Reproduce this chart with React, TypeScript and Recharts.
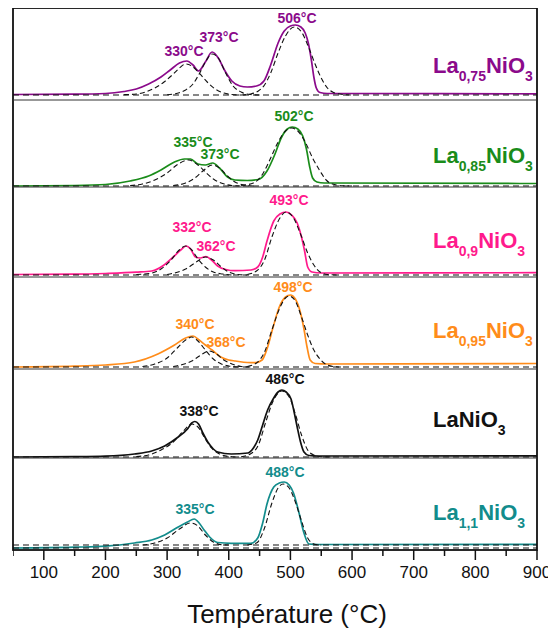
import { Line, LineChart, XAxis, YAxis } from "recharts";

type Pt = [number, number];

// temperature (°C), signal height (a.u.)
const la075Profile: Pt[] = [[50, 0.5], [150, 0.8], [200, 1.5], [230, 3.5], [250, 6], [270, 11], [290, 18], [305, 25], [320, 32], [332, 34], [342, 30], [351, 24], [362, 33], [373, 43], [383, 37], [393, 25], [405, 14], [418, 9], [430, 8], [445, 9], [457, 14], [468, 30], [480, 52], [490, 64], [500, 69], [508, 70], [517, 68], [524, 62], [529, 52], [534, 35], [538, 18], [542, 7], [548, 2.5], [560, 1.5], [900, 1.2]];
const la075FitLow: Pt[] = [[230, 0.3], [250, 1], [265, 3], [280, 7], [295, 13], [310, 21], [320, 27], [330, 31], [340, 29], [352, 22], [365, 13], [378, 6], [392, 2], [405, 0.5], [420, 0]];
const la075FitMid: Pt[] = [[300, 0.3], [315, 1.5], [330, 5], [342, 11], [352, 21], [363, 34], [373, 41], [383, 37], [395, 22], [407, 9], [420, 3], [435, 0.5], [450, 0]];
const la075FitHigh: Pt[] = [[420, 0], [435, 1], [448, 4], [458, 10], [468, 22], [480, 42], [492, 59], [506, 68], [518, 63], [530, 47], [540, 31], [550, 17], [560, 7], [570, 2.5], [585, 0.5], [600, 0]];

const la085Profile: Pt[] = [[50, 0], [150, 0.5], [200, 1.5], [240, 5], [270, 10], [290, 16], [312, 24], [328, 27], [338, 27], [350, 22], [362, 21], [374, 23], [385, 18], [398, 9], [410, 6], [430, 5.5], [448, 6.5], [462, 15], [475, 32], [485, 48], [495, 57], [503, 59], [512, 57], [520, 50], [526, 37], [531, 20], [536, 8], [543, 4], [555, 3], [900, 2.5]];
const la085FitLow: Pt[] = [[240, 0.5], [260, 2], [280, 6], [300, 13], [318, 22], [335, 26], [350, 21], [362, 14], [375, 7], [390, 2.5], [405, 0.5], [420, 0]];
const la085FitMid: Pt[] = [[310, 0.5], [330, 3], [345, 8], [358, 15], [373, 21], [385, 18], [398, 10], [410, 4], [425, 1], [440, 0]];
const la085FitHigh: Pt[] = [[420, 0.5], [440, 3], [455, 12], [468, 28], [480, 44], [492, 55], [502, 58], [512, 55], [524, 44], [536, 28], [548, 15], [558, 6], [568, 2], [585, 0.3], [600, 0]];

const la09Profile: Pt[] = [[50, 0.5], [150, 0.8], [200, 1.5], [250, 2.8], [275, 4], [295, 10], [310, 18], [322, 25], [331, 29], [338, 26], [346, 18], [354, 17], [363, 18.5], [372, 15], [382, 9], [395, 5.5], [410, 4.3], [436, 5], [447, 8], [455, 18], [462, 34], [473, 54], [483, 61], [493, 63], [502, 60], [511, 52], [518, 38], [523, 24], [528, 8], [535, 3], [550, 2], [900, 2.3]];
const la09FitLow: Pt[] = [[250, 0.5], [274, 1.7], [290, 6], [305, 14], [318, 24], [330, 29], [340, 25], [350, 16], [362, 8], [375, 3], [390, 1], [405, 0]];
const la09FitMid: Pt[] = [[300, 0.5], [315, 2.5], [330, 6], [345, 12], [362, 18], [375, 15], [388, 8], [400, 3], [415, 0.5], [430, 0]];
const la09FitHigh: Pt[] = [[430, 0.5], [445, 4], [458, 15], [470, 38], [482, 56], [493, 63], [505, 57], [517, 40], [528, 22], [538, 10], [548, 3], [560, 0.5], [575, 0]];

const la095Profile: Pt[] = [[50, 0], [150, 0.8], [200, 2], [247, 5], [285, 13], [312, 22], [330, 29], [342, 31], [352, 27], [362, 22], [373, 17], [387, 10], [400, 7], [411, 6], [430, 4.5], [443, 4.3], [454, 7], [462, 18], [472, 40], [482, 60], [492, 70], [500, 72], [508, 68], [516, 55], [522, 38], [527, 20], [532, 7], [540, 3.5], [560, 3], [900, 3.5]];
const la095FitLow: Pt[] = [[260, 0.5], [280, 3], [300, 9], [318, 20], [330, 27], [340, 30], [350, 26], [362, 17], [375, 8], [388, 3], [400, 1], [415, 0]];
const la095FitMid: Pt[] = [[310, 0.5], [325, 2.5], [340, 6], [355, 12], [368, 16], [380, 13], [392, 7], [405, 3], [420, 0.5], [435, 0]];
const la095FitHigh: Pt[] = [[430, 0.5], [445, 4], [458, 15], [470, 37], [482, 58], [492, 69], [498, 71], [508, 66], [518, 50], [528, 32], [538, 17], [548, 8], [558, 2.5], [570, 0.5], [585, 0]];

const la10Profile: Pt[] = [[50, 0], [150, 0.3], [200, 0.8], [247, 3], [275, 6], [296, 11], [318, 20], [333, 28], [340, 34], [345, 35.5], [351, 33], [358, 24], [366, 15], [375, 8], [382, 5], [404, 3], [431, 4], [440, 9], [447, 17], [455, 32], [463, 47], [472, 58], [480, 65], [486, 67], [493, 65], [501, 58], [506, 45], [511, 30], [516, 16], [522, 5], [530, 1.5], [545, 1], [900, 1.2]];
const la10FitLow: Pt[] = [[250, 0.5], [270, 2], [290, 7], [310, 15], [325, 25], [340, 33], [350, 30], [360, 20], [372, 9], [385, 3], [400, 0.5], [415, 0]];
const la10FitHigh: Pt[] = [[420, 0.3], [435, 3], [448, 12], [460, 35], [472, 56], [486, 66], [498, 60], [508, 43], [518, 22], [528, 7], [538, 2], [550, 0.3], [565, 0]];

const la11Profile: Pt[] = [[50, 0], [150, 0.8], [200, 1.8], [247, 5], [275, 8], [296, 13], [318, 21], [333, 26], [344, 29], [352, 25], [360, 18], [369, 11], [382, 5.5], [404, 4.7], [436, 4.7], [447, 10], [455, 25], [462, 44], [473, 61], [482, 65], [490, 66], [498, 63], [505, 55], [514, 35], [522, 15], [530, 4], [545, 3.5], [900, 3.7]];
const la11FitLow: Pt[] = [[260, 3], [280, 5], [300, 10], [320, 19], [338, 25], [350, 22], [362, 13], [375, 6], [390, 3.2], [400, 3]];
const la11FitHigh: Pt[] = [[430, 3], [445, 5], [458, 20], [470, 45], [480, 60], [488, 64], [498, 60], [508, 46], [518, 27], [528, 10], [538, 4], [550, 3]];

const zeroLine: Pt[] = [[50, 0], [900, 0]];
const fitBaseLine: Pt[] = [[50, 3], [900, 3]];

const sampleNames = [
	["La", "0,75", "NiO", "3"],
	["La", "0,85", "NiO", "3"],
	["La", "0,9", "NiO", "3"],
	["La", "0,95", "NiO", "3"],
	["LaNiO", "3"],
	["La", "1,1", "NiO", "3"],
];

const peakLabels = [
	["330°C", "373°C", "506°C"],
	["335°C", "373°C", "502°C"],
	["332°C", "362°C", "493°C"],
	["340°C", "368°C", "498°C"],
	["338°C", "486°C"],
	["335°C", "488°C"],
];

const tempTicks = [50, 100, 150, 200, 250, 300, 350, 400, 450, 500, 550, 600, 650, 700, 750, 800, 850, 900];

// layout, page pixels
const PLOT_X = 13;
const PLOT_W = 524;
const RIGHT_PAD = 19;
const FONT = "'Liberation Sans', Arial, sans-serif";

const panels = [
	{ color: "#8B0A8B", top: 8, height: 92, floor: 5, profile: la075Profile, fits: [la075FitLow, la075FitMid, la075FitHigh], bases: [zeroLine], nameY: 73, labelPos: [[184, 56], [219, 42], [297, 23]] },
	{ color: "#1A8C1A", top: 100, height: 87, floor: 1, profile: la085Profile, fits: [la085FitLow, la085FitMid, la085FitHigh], bases: [zeroLine], nameY: 163, labelPos: [[193, 147], [220, 159], [294, 121]] },
	{ color: "#FF1A8C", top: 187, height: 90, floor: 2, profile: la09Profile, fits: [la09FitLow, la09FitMid, la09FitHigh], bases: [zeroLine], nameY: 248, labelPos: [[192, 232], [216, 251], [289, 205]] },
	{ color: "#FF8C1A", top: 277, height: 92, floor: 2, profile: la095Profile, fits: [la095FitLow, la095FitMid, la095FitHigh], bases: [zeroLine], nameY: 338, labelPos: [[195, 329], [226, 347], [293, 292]] },
	{ color: "#111111", top: 369, height: 89, floor: 1, profile: la10Profile, fits: [la10FitLow, la10FitHigh], bases: [zeroLine], nameY: 427, labelPos: [[199, 416], [285, 384]] },
	{ color: "#128C8C", top: 458, height: 92, floor: 2, profile: la11Profile, fits: [la11FitLow, la11FitHigh], bases: [zeroLine, fitBaseLine], nameY: 520, labelPos: [[195, 514], [285, 477]] },
];

const AXIS_H = 50;

function buildRows(series: Record<string, Pt[]>) {
	const rows = new Map<number, Record<string, number>>();
	for (const [key, pts] of Object.entries(series)) {
		for (const [t, v] of pts) {
			const row = rows.get(t) ?? { t };
			row[key] = v;
			rows.set(t, row);
		}
	}
	return [...rows.values()].sort((a, b) => a.t - b.t);
}

const TempTick = (props: any) => {
	const { x, y, payload } = props;
	const major = payload.value % 100 === 0;
	return (
		<g>
			<line x1={x} x2={x} y1={y} y2={y + (major ? 10 : 6)} stroke="#111" strokeWidth={1.5} />
			{major && (
				<text x={x} y={y + 28} textAnchor="middle" fontSize={17} fontFamily={FONT} fill="#111">
					{payload.value}
				</text>
			)}
		</g>
	);
};

const Panel = ({ p, last }: { p: (typeof panels)[number]; last: boolean }) => {
	const series: Record<string, Pt[]> = { profile: p.profile };
	p.fits.forEach((f, i) => (series[`fit${i}`] = f));
	p.bases.forEach((b, i) => (series[`base${i}`] = b));
	const data = buildRows(series);
	const h = p.height + (last ? AXIS_H : 0);
	return (
		<div style={{ position: "absolute", left: PLOT_X - 8, top: p.top - 8 }}>
			<LineChart width={PLOT_W + RIGHT_PAD} height={h} data={data} margin={{ top: 0, right: RIGHT_PAD, bottom: 0, left: 0 }}>
				<XAxis
					type="number"
					dataKey="t"
					domain={[50, 900]}
					ticks={tempTicks}
					hide={!last}
					height={last ? AXIS_H : 0}
					axisLine={false}
					tickLine={false}
					tickSize={0}
					tickMargin={0}
					tick={<TempTick />}
					interval={0}
					allowDataOverflow
				/>
				<YAxis hide domain={[-p.floor, p.height - p.floor]} allowDataOverflow />
				<Line dataKey="profile" type="monotone" stroke={p.color} strokeWidth={1.7} dot={false} connectNulls isAnimationActive={false} />
				{p.bases.map((_, i) => (
					<Line key={`b${i}`} dataKey={`base${i}`} type="linear" stroke="#111" strokeWidth={1.2} strokeDasharray="6 4" dot={false} connectNulls isAnimationActive={false} />
				))}
				{p.fits.map((_, i) => (
					<Line key={`f${i}`} dataKey={`fit${i}`} type="monotone" stroke="#111" strokeWidth={1.1} strokeDasharray="5 3" dot={false} connectNulls isAnimationActive={false} />
				))}
			</LineChart>
		</div>
	);
};

const SampleName = ({ parts, x, y, color }: { parts: string[]; x: number; y: number; color: string }) => (
	<text x={x} y={y} fill={color} fontFamily={FONT} fontWeight="bold" fontSize={22}>
		{parts.map((s, i) => {
			const sub = i % 2 === 1;
			return (
				<tspan key={i} fontSize={sub ? 14 : 22} dy={i === 0 ? 0 : sub ? 8 : -8}>
					{s}
				</tspan>
			);
		})}
	</text>
);

const App = () => {
	return (
		<div style={{ position: "relative", width: 548, height: 623, background: "#fff" }}>
			{panels.map((p, i) => (
				<Panel key={i} p={p} last={i === panels.length - 1} />
			))}
			<svg width={556} height={631} style={{ position: "absolute", left: -8, top: -8, pointerEvents: "none" }}>
				<rect x={PLOT_X} y={8} width={PLOT_W} height={542} fill="none" stroke="#111" strokeWidth={1.8} />
				{panels.slice(1).map((p, i) => (
					<line key={i} x1={PLOT_X} x2={PLOT_X + PLOT_W} y1={p.top} y2={p.top} stroke="#333" strokeWidth={1} />
				))}
				{panels.map((p, i) =>
					peakLabels[i].map((txt, j) => (
						<text key={`${i}-${j}`} x={p.labelPos[j][0]} y={p.labelPos[j][1]} textAnchor="middle" fill={p.color} fontFamily={FONT} fontWeight="bold" fontSize={14}>
							{txt}
						</text>
					)),
				)}
				{panels.map((p, i) => (
					<SampleName key={i} parts={sampleNames[i]} x={433} y={p.nameY} color={p.color} />
				))}
				<text x={287} y={623} textAnchor="middle" fontFamily={FONT} fontSize={26} fill="#111">
					Température (°C)
				</text>
			</svg>
		</div>
	);
};

export default App;
